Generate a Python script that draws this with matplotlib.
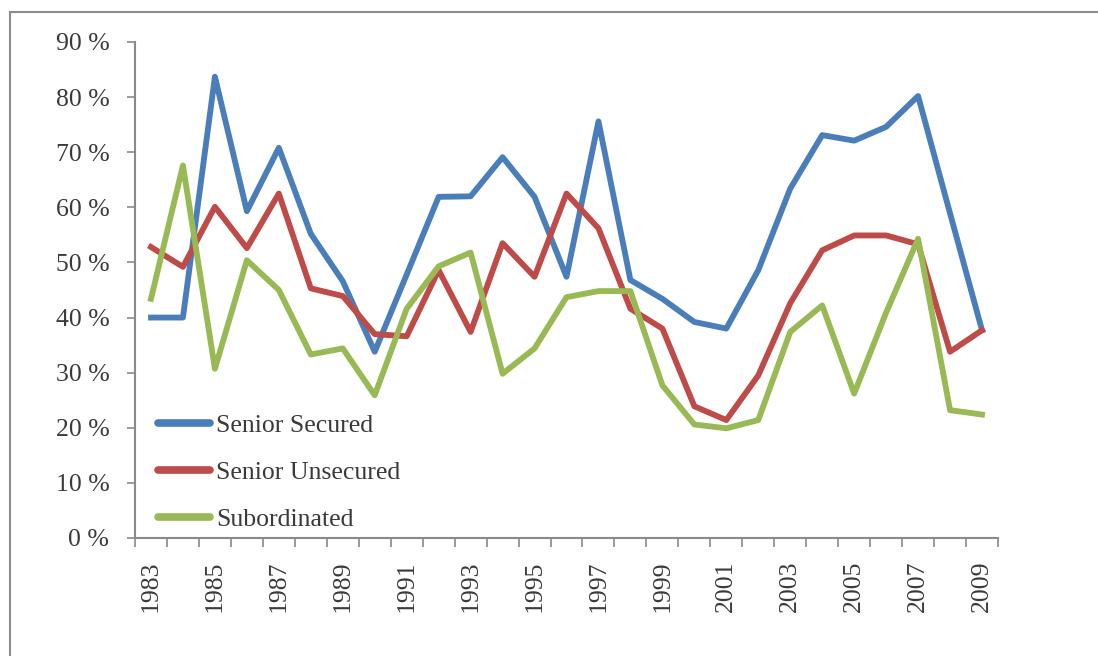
import numpy as np
import matplotlib
matplotlib.use("Agg")
from matplotlib import pyplot as plt
from matplotlib.patches import Rectangle

years = list(range(1983, 2010))

senior_secured = [40.0, 40.0, 83.7, 59.3, 70.8, 55.2, 46.6, 33.8, 47.8, 61.9,
                  62.0, 69.1, 61.9, 47.4, 75.6, 46.8, 43.4, 39.2, 38.0, 48.6,
                  63.4, 73.1, 72.1, 74.6, 80.2, 58.9, 37.7]
senior_unsecured = [52.8, 49.2, 60.1, 52.6, 62.5, 45.3, 43.9, 37.0, 36.6, 48.6,
                    37.4, 53.5, 47.4, 62.5, 56.2, 41.6, 38.0, 23.9, 21.4, 29.5,
                    42.6, 52.2, 54.9, 54.9, 53.3, 33.8, 37.7]
subordinated = [43.4, 67.6, 30.7, 50.4, 45.0, 33.3, 34.4, 25.9, 41.6, 49.3,
                51.8, 29.8, 34.4, 43.7, 44.8, 44.8, 27.7, 20.6, 19.9, 21.4,
                37.4, 42.2, 26.2, 40.9, 54.3, 23.2, 22.4]

series = [("Senior Secured", senior_secured, "#4A7EBB"),
          ("Senior Unsecured", senior_unsecured, "#BE4B48"),
          ("Subordinated", subordinated, "#98B954")]

plt.rcParams['font.family'] = ['Liberation Serif', 'DejaVu Serif']
text_color = "#3a3a3a"
axis_color = "#8a8a8a"

W, H = 1098, 656
fig = plt.figure(figsize=(W / 100, H / 100), dpi=100)
fig.patches.append(Rectangle((10 / W, -0.1), 1.2, 1 - 12 / H + 0.1, transform=fig.transFigure,
                             fill=False, edgecolor="#8c8c8c", linewidth=1.5))

left, right, top, bottom = 135, 998, 42, 538
ax = fig.add_axes([left / W, 1 - bottom / H, (right - left) / W, (bottom - top) / H])

x = np.arange(len(years))
for name, vals, color in series:
    ax.plot(x, vals, color=color, linewidth=4.2, label=name, solid_joinstyle="round")

ax.set_xlim(-0.5, len(years) - 0.5)
ax.set_ylim(0, 90)

ax.set_yticks(range(0, 100, 10))
ax.set_yticklabels([f"{v} %" for v in range(0, 100, 10)])
ax.tick_params(axis="y", direction="out", length=5.5, width=1.2, color=axis_color,
               labelsize=18.5, labelcolor=text_color, pad=13)

ax.set_xticks(np.arange(-0.5, len(years)), minor=False)
ax.set_xticklabels([])
ax.set_xticks(x[::2], minor=True)
ax.set_xticklabels([str(y) for y in years[::2]], minor=True, rotation=90)
ax.tick_params(axis="x", which="major", direction="out", length=6.5, width=1.2, color=axis_color)
ax.tick_params(axis="x", which="minor", length=0, labelsize=18.5, labelcolor=text_color, pad=16)

for s in ["top", "right"]:
    ax.spines[s].set_visible(False)
for s in ["left", "bottom"]:
    ax.spines[s].set_color(axis_color)
    ax.spines[s].set_linewidth(1.5)

leg = ax.legend(loc="upper left", bbox_to_anchor=(0.027, 0.249), frameon=False,
                fontsize=18.5, handlelength=2.0, handletextpad=0.25, labelspacing=0.92,
                borderpad=0, borderaxespad=0)
for t in leg.get_texts():
    t.set_color(text_color)
for line in leg.get_lines():
    line.set_linewidth(5.5)
    line.set_solid_capstyle("round")

fig.savefig("out.png", dpi=100)
